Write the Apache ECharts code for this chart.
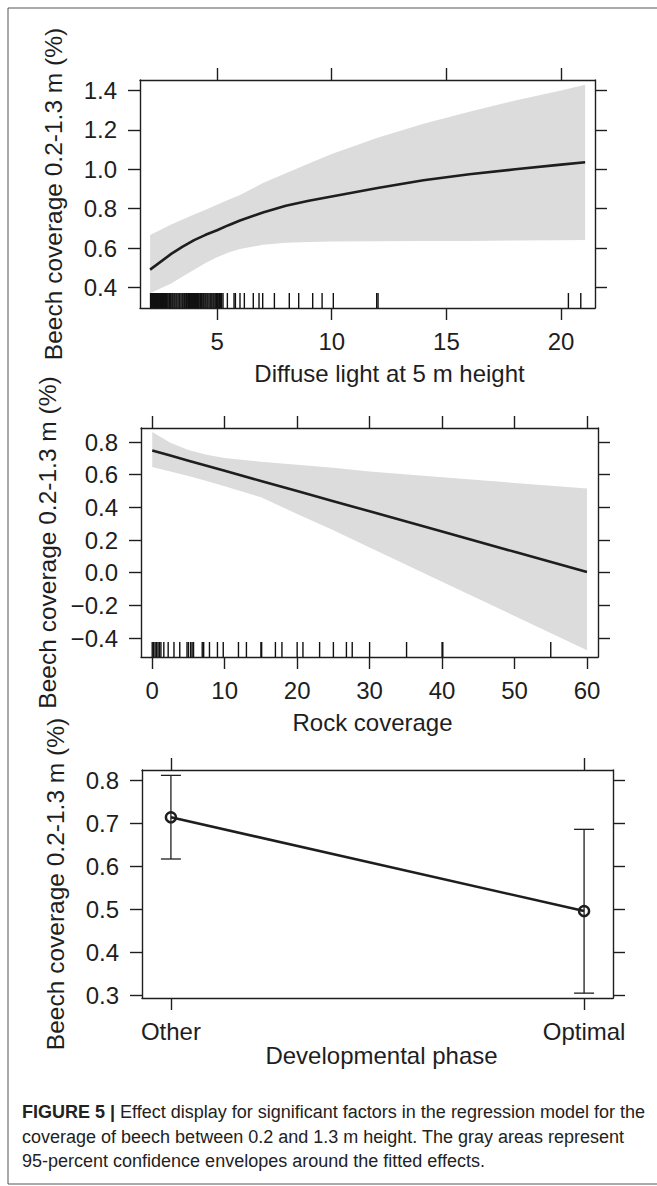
<!DOCTYPE html>
<html>
<head>
<meta charset="utf-8">
<title>Effect display – beech coverage</title>
<script src="https://cdn.jsdelivr.net/npm/echarts@6/dist/echarts.min.js"></script>
<style>
  html, body { margin: 0; padding: 0; background: #fff; }
  #chart { width: 657px; height: 1186px; }
</style>
</head>
<body>
<div id="chart"></div>
<script>
// ---------- data ----------

// panel 1: diffuse light at 5 m height
const lightX     = [2.08, 3, 3.5, 4, 4.5, 5, 5.5, 6, 7, 8, 9, 10, 12, 14, 16, 18, 20, 21.05];
const lightFit   = [0.49, 0.57, 0.607, 0.64, 0.667, 0.69, 0.716, 0.74, 0.78, 0.815, 0.84, 0.862, 0.905, 0.944, 0.975, 1.0, 1.024, 1.036];
const lightUpper = [0.666, 0.72, 0.745, 0.77, 0.795, 0.82, 0.845, 0.87, 0.93, 0.98, 1.03, 1.078, 1.16, 1.232, 1.293, 1.35, 1.40, 1.43];
const lightLower = [0.37, 0.42, 0.455, 0.49, 0.524, 0.553, 0.577, 0.595, 0.616, 0.627, 0.631, 0.633, 0.634, 0.635, 0.636, 0.638, 0.64, 0.641];
const lightRug = [
    2.1, 2.14, 2.19, 2.22, 2.27, 2.31, 2.36, 2.4, 2.45, 2.5, 2.53, 2.58, 2.62, 2.67, 2.71, 2.76,
    2.8, 2.85, 2.9, 2.93, 2.98, 3.03, 3.07, 3.12, 3.16, 3.21, 3.25, 3.3, 3.35, 3.38, 3.43, 3.48,
    3.52, 3.57, 3.61, 3.66, 3.7, 3.75, 3.8, 3.84, 3.88, 3.93, 3.97, 4.02, 4.06, 4.11, 4.15, 4.2,
    4.25, 4.28, 4.33, 4.38, 4.42, 4.47, 4.51, 4.56, 4.6, 4.65, 4.7, 4.74, 4.78, 4.83, 4.87, 4.92,
    4.97, 5.01, 5.05, 5.1, 5.15, 5.2, 5.26, 5.45, 5.74, 5.8, 6.0, 6.19, 6.58, 6.83, 6.99, 7.5,
    8.15, 8.56, 9.17, 9.58, 10.07, 11.96, 12.02, 20.32, 20.86
];
const lightXTicks = [5, 10, 15, 20];
const lightYTicks = [0.4, 0.6, 0.8, 1.0, 1.2, 1.4];

// panel 2: rock coverage
const rockX     = [0, 2.5, 5, 7.5, 10, 15, 20, 25, 30, 40, 50, 60];
const rockFit   = [0.748, 0.717, 0.686, 0.655, 0.624, 0.562, 0.5, 0.438, 0.376, 0.252, 0.128, 0.005];
const rockUpper = [0.861, 0.795, 0.752, 0.722, 0.703, 0.68, 0.661, 0.642, 0.619, 0.584, 0.55, 0.515];
const rockLower = [0.647, 0.62, 0.592, 0.562, 0.53, 0.462, 0.36, 0.26, 0.155, -0.055, -0.265, -0.475];
const rockRug = [
    0, 0.2, 0.4, 0.6, 0.8, 1, 1.2, 1.6, 2.2, 3, 3.8, 4.8, 5, 5.3, 5.5, 5.7, 6.9, 7.1, 7.9, 9,
    9.8, 11.9, 13, 15, 15.1, 17, 17.9, 20, 20.8, 23.1, 25, 26.8, 27.6, 30, 35.1, 40, 40.1, 55
];
const rockXTicks = [0, 10, 20, 30, 40, 50, 60];
const rockYTicks = [-0.4, -0.2, 0.0, 0.2, 0.4, 0.6, 0.8];

// panel 3: developmental phase
const phaseNames = ["Other", "Optimal"];
const phaseFit   = [0.715, 0.497];
const phaseUpper = [0.8125, 0.687];
const phaseLower = [0.618, 0.306];
const phaseYTicks = [0.3, 0.4, 0.5, 0.6, 0.7, 0.8];

const yTitle = "Beech coverage 0.2-1.3 m (%)";
const captionBold = "FIGURE 5 |";
const captionLines = [
    " Effect display for significant factors in the regression model for the",
    "coverage of beech between 0.2 and 1.3 m height. The gray areas represent",
    "95-percent confidence envelopes around the fitted effects."
];

// ---------- chart ----------
const FONT = "Liberation Sans, Arial, Helvetica, sans-serif";
const INK = "#1e1e1e";
const BAND = "#dcdcdc";
const chart = echarts.init(document.getElementById("chart"), null, { renderer: "svg" });

const axisLine = { show: true, onZero: false, lineStyle: { color: INK, width: 1.4 } };
const tickLine = { color: INK, width: 1.4 };
const labelText = { fontFamily: FONT, fontSize: 24, color: INK };
const fmt1 = (v) => v.toFixed(1).replace("-", "\u2212");

const panels = [
    {
        grid: { left: 140, top: 80, width: 455, height: 228 },
        x: [1.64, 21.48], y: [0.295, 1.454],
        xTicks: lightXTicks, yTicks: lightYTicks, xFmt: (v) => String(v),
        xName: "Diffuse light at 5 m height", nameGap: 53, namePad: 44
    },
    {
        grid: { left: 141, top: 428, width: 457, height: 229 },
        x: [-1.55, 61.52], y: [-0.516, 0.886],
        xTicks: rockXTicks, yTicks: rockYTicks, xFmt: (v) => String(v),
        xName: "Rock coverage", nameGap: 53, namePad: 6
    },
    {
        grid: { left: 142, top: 770, width: 471, height: 228 },
        x: [0.93, 2.07], y: [0.2947, 0.825],
        xTicks: [1, 2], yTicks: phaseYTicks, xFmt: (v) => phaseNames[Math.round(v) - 1],
        xName: "Developmental phase", nameGap: 45, namePad: 8
    }
];

const grids = [], xAxes = [], yAxes = [];
panels.forEach((p, i) => {
    grids.push(p.grid);
    xAxes.push({
        type: "value", gridIndex: i, position: "bottom", min: p.x[0], max: p.x[1],
        axisLine, splitLine: { show: false },
        axisTick: { show: true, length: 12, customValues: p.xTicks, lineStyle: tickLine },
        axisLabel: { customValues: p.xTicks, formatter: p.xFmt, margin: 21, ...labelText },
        name: p.xName, nameLocation: "middle", nameGap: p.nameGap,
        nameTextStyle: { ...labelText, padding: [0, 0, 0, p.namePad] }
    });
    xAxes.push({
        type: "value", gridIndex: i, position: "top", min: p.x[0], max: p.x[1],
        axisLine, splitLine: { show: false },
        axisTick: { show: true, length: 12, customValues: p.xTicks, lineStyle: tickLine },
        axisLabel: { show: false }
    });
    yAxes.push({
        type: "value", gridIndex: i, position: "left", min: p.y[0], max: p.y[1],
        axisLine, splitLine: { show: false },
        axisTick: { show: true, length: 12, customValues: p.yTicks, lineStyle: tickLine },
        axisLabel: { customValues: p.yTicks, formatter: fmt1, margin: 23, ...labelText },
        name: yTitle, nameLocation: "middle", nameRotate: 90, nameGap: 74,
        nameTextStyle: { ...labelText, fontSize: 24.5 }
    });
    yAxes.push({
        type: "value", gridIndex: i, position: "right", min: p.y[0], max: p.y[1],
        axisLine, splitLine: { show: false },
        axisTick: { show: true, length: 12, customValues: p.yTicks, lineStyle: tickLine },
        axisLabel: { show: false }
    });
});

function bandSeries(i, xs, up, lo) {
    return {
        type: "custom", xAxisIndex: 2 * i, yAxisIndex: 2 * i, silent: true, z: 1,
        data: xs.map((x, k) => [x, up[k], lo[k]]),
        encode: { x: 0, y: [1, 2] },
        renderItem: (params, api) => {
            if (params.dataIndex !== 0) return null;
            const top = xs.map((x, k) => api.coord([x, up[k]]));
            const bot = xs.map((x, k) => api.coord([x, lo[k]])).reverse();
            return { type: "polygon", shape: { points: top.concat(bot) }, style: { fill: BAND } };
        }
    };
}

function fitSeries(i, xs, ys) {
    return {
        type: "line", xAxisIndex: 2 * i, yAxisIndex: 2 * i, silent: true, z: 3,
        data: xs.map((x, k) => [x, ys[k]]),
        symbol: "none", lineStyle: { color: INK, width: 2.6 }
    };
}

function rugSeries(i, values, yMin) {
    return {
        type: "custom", xAxisIndex: 2 * i, yAxisIndex: 2 * i, silent: true, z: 4,
        data: values.map((v) => [v, yMin]),
        encode: { x: 0, y: 1 },
        renderItem: (params, api) => {
            const b = api.coord([api.value(0), api.value(1)]);
            return {
                type: "line",
                shape: { x1: b[0], y1: b[1], x2: b[0], y2: b[1] - 15 },
                style: { stroke: "#111", lineWidth: 1.4 }
            };
        }
    };
}

const series = [
    bandSeries(0, lightX, lightUpper, lightLower),
    fitSeries(0, lightX, lightFit),
    rugSeries(0, lightRug, panels[0].y[0]),

    bandSeries(1, rockX, rockUpper, rockLower),
    fitSeries(1, rockX, rockFit),
    rugSeries(1, rockRug, panels[1].y[0]),

    {
        type: "custom", xAxisIndex: 4, yAxisIndex: 4, silent: true, z: 2,
        data: phaseNames.map((n, k) => [k + 1, phaseUpper[k], phaseLower[k]]),
        encode: { x: 0, y: [1, 2] },
        renderItem: (params, api) => {
            const t = api.coord([api.value(0), api.value(1)]);
            const b = api.coord([api.value(0), api.value(2)]);
            const st = { stroke: INK, lineWidth: 1.3 };
            return {
                type: "group",
                children: [
                    { type: "line", shape: { x1: t[0], y1: t[1], x2: b[0], y2: b[1] }, style: st },
                    { type: "line", shape: { x1: t[0] - 10, y1: t[1], x2: t[0] + 10, y2: t[1] }, style: st },
                    { type: "line", shape: { x1: b[0] - 10, y1: b[1], x2: b[0] + 10, y2: b[1] }, style: st }
                ]
            };
        }
    },
    {
        type: "line", xAxisIndex: 4, yAxisIndex: 4, silent: true, z: 3,
        data: phaseFit.map((v, k) => [k + 1, v]),
        symbol: "circle", symbolSize: 10,
        itemStyle: { color: "rgba(0,0,0,0)", borderColor: INK, borderWidth: 2.4 },
        lineStyle: { color: INK, width: 2.6 }
    }
];

const frame = { stroke: "#555", lineWidth: 1 };

chart.setOption({
    animation: false,
    backgroundColor: "#fff",
    grid: grids,
    xAxis: xAxes,
    yAxis: yAxes,
    series,
    graphic: [
        { type: "line", shape: { x1: 8, y1: 8, x2: 657, y2: 8 }, style: frame },
        { type: "line", shape: { x1: 8, y1: 8, x2: 8, y2: 1184 }, style: frame },
        { type: "line", shape: { x1: 8, y1: 1184, x2: 657, y2: 1184 }, style: frame },
        {
            type: "text", left: 22, top: 1100,
            style: {
                text: "{b|" + captionBold + "}" + captionLines[0] + "\n" + captionLines[1] + "\n" + captionLines[2],
                font: "18px " + FONT, fill: "#222", lineHeight: 24.5,
                rich: { b: { fontWeight: "bold", fontSize: 18, fontFamily: FONT, fill: "#222" } }
            }
        }
    ]
});
</script>
</body>
</html>
